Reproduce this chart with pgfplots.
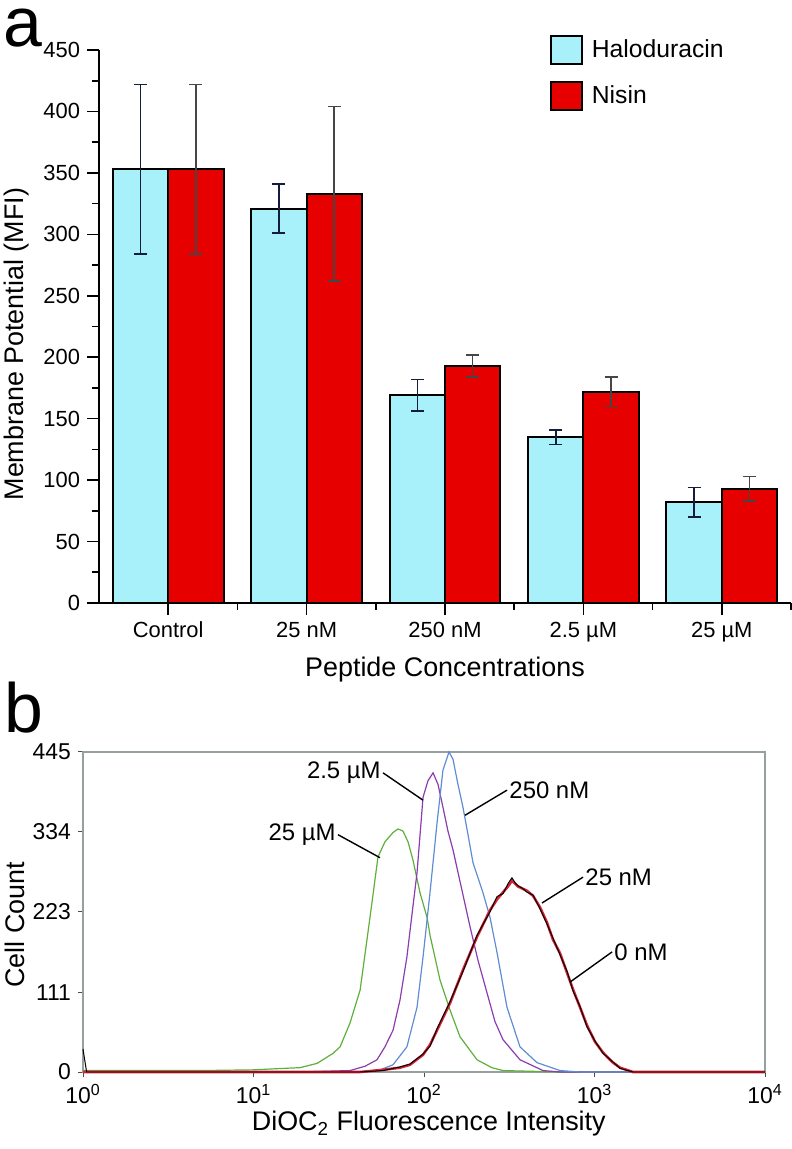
\documentclass[border=0pt]{standalone}
\usepackage{fontspec}
\setmainfont{Liberation Sans}
\usepackage{pgfplots}
\pgfplotsset{compat=1.18}
\definecolor{halo}{RGB}{168,240,250}
\definecolor{nisin}{RGB}{230,0,0}
\definecolor{errH}{RGB}{20,30,60}
\definecolor{errN}{RGB}{70,70,70}
\definecolor{cgreen}{RGB}{95,175,60}
\definecolor{cpurple}{RGB}{140,60,175}
\definecolor{cblue}{RGB}{95,140,210}
\definecolor{cred}{RGB}{215,35,55}
\definecolor{frame}{RGB}{150,160,160}
\pgfplotsset{mysq/.style={legend image code/.code={\draw[##1,line width=1bp] (0bp,-7bp) rectangle (15.5bp,7bp);}}}
\begin{document}
\begin{tikzpicture}
\path[use as bounding box] (0,0) rectangle (396bp,574.5bp);
\node[anchor=base west,inner sep=0pt,font=\fontsize{35}{38}\selectfont] at (1.5bp,551bp) {a};
\node[anchor=base west,inner sep=0pt,font=\fontsize{35}{38}\selectfont] at (2bp,208bp) {b};
% ---------------- panel a
\begin{axis}[
  at={(49.5bp,273bp)}, anchor=south west,
  scale only axis, width=346bp, height=276.5bp,
  xmin=-0.5, xmax=4.5, ymin=0, ymax=450,
  axis x line=bottom, axis y line=left,
  axis line style={-, line width=1bp, black},
  xtick={0,1,2,3,4},
  xticklabels={Control,25 nM,250 nM,2.5 µM,25 µM},
  minor xtick={0.5,1.5,2.5,3.5,4.5},
  ytick={0,50,...,450}, minor ytick={25,75,...,425},
  tick align=outside, major tick length=6bp, minor tick length=3.5bp,
  every tick/.style={black, line width=0.8bp},
  tick label style={font=\fontsize{11}{13}\selectfont},
  /pgf/number format/assume math mode=true,
  xlabel={Peptide Concentrations},
  ylabel={Membrane Potential (MFI)},
  label style={font=\fontsize{13.5}{16}\selectfont},
  xlabel style={at={(axis description cs:0.5,-0.121)}, anchor=center},
  ylabel style={at={(axis description cs:-0.1185,0.468)}, anchor=center, rotate=0},
  legend style={at={(0.651,1.027)}, anchor=north west, draw=none, fill=none,
    font=\fontsize{12.4}{15}\selectfont, row sep=8bp, inner sep=0pt,
    nodes={inner xsep=4.5bp}},
  legend cell align=left,
  clip=false,
]
\addplot[ybar, bar width=0.4, bar shift=0pt, fill=halo, draw=black, line width=1bp, mysq,
  error bars/.cd, y dir=both, y explicit,
  error bar style={line width=0.8bp, draw=errH},
  error mark=-,
  error mark options={rotate=90, mark size=3.25bp, line width=0.8bp, draw=errH}]
coordinates {(-0.2,353) +- (0,69) (0.8,321) +- (0,20) (1.8,169) +- (0,13) (2.8,135) +- (0,6) (3.8,82) +- (0,12)};
\addlegendentry{Haloduracin}
\addplot[ybar, bar width=0.4, bar shift=0pt, fill=nisin, draw=black, line width=1bp, mysq,
  error bars/.cd, y dir=both, y explicit,
  error bar style={line width=0.8bp, draw=errN},
  error mark=-,
  error mark options={rotate=90, mark size=3.25bp, line width=0.8bp, draw=errN}]
coordinates {(0.2,353) +- (0,69) (1.2,333) +- (0,71) (2.2,193) +- (0,9) (3.2,172) +- (0,12) (4.2,93) +- (0,10)};
\addlegendentry{Nisin}
\end{axis}
% ---------------- panel b
\begin{axis}[
  at={(41.5bp,38.5bp)}, anchor=south west,
  scale only axis, width=341bp, height=160bp,
  xmode=log, xmin=1, xmax=10000, ymin=0, ymax=445,
  xtick={1,10,100,1000,10000},
  xticklabels={10\textsuperscript{0},10\textsuperscript{1},10\textsuperscript{2},10\textsuperscript{3},10\textsuperscript{4}},
  xminorticks=false,
  ytick={0,111,223,334,445},
  xtick pos=bottom, ytick pos=left,
  tick align=outside, major tick length=2.5bp,
  every tick/.style={black!70, line width=0.5bp},
  axis line style={frame, line width=0.7bp},
  tick label style={font=\fontsize{11.5}{13}\selectfont},
  /pgf/number format/assume math mode=true,
  xlabel={DiOC\textsubscript{2} Fluorescence Intensity},
  ylabel={Cell Count},
  label style={font=\fontsize{13.5}{16}\selectfont},
  xlabel style={at={(axis description cs:0.507,-0.1625)}, anchor=center},
  ylabel style={at={(axis description cs:-0.0997,0.46)}, anchor=center, rotate=0},
  clip=false,
]
% 25 uM
\addplot[cgreen, line width=0.6bp] coordinates {
(1,2) (4.86,2) (10,3) (14.9,5) (18.7,6) (23.6,12) (29.3,26) (32.2,35) (36.8,68) (42.2,114)
(46.3,184) (50,243) (53.7,299) (59.0,320) (65.8,333) (70.4,338) (75.3,335) (80.6,320)
(86.1,295) (94.8,249) (104.2,215) (108.5,190) (124.1,128) (142.2,86) (162.6,49) (204.6,17)
(250,6) (290.6,2) (628,0) (10000,0)};
% 2.5 uM
\addplot[cpurple, line width=0.6bp] coordinates {
(1,0) (18.7,0) (36.8,2) (45.1,8) (53.0,17) (59.0,35) (65.8,58) (72.3,100) (79.4,160)
(85.1,220) (91.0,277) (98.7,382) (105.5,405) (113,416) (120.8,400) (129.2,368) (138.2,335)
(147.9,309) (162.6,265) (186.2,202) (207.5,155) (234.2,110) (260.9,70) (290.6,45) (365.6,17)
(499,2) (628,0) (10000,0)};
% 250 nM
\addplot[cblue, line width=0.6bp] coordinates {
(1,0) (42.2,0) (55.2,3) (65.8,10) (79.4,35) (91.0,90) (98.7,160) (108.5,250) (119.2,346)
(129.2,420) (140.2,445) (147.9,435) (158.2,400) (169.3,368) (181.2,330) (193.8,291)
(207.5,270) (221.9,249) (243.9,215) (268.1,166) (306.7,90) (365.6,35) (460,13) (628,2)
(822,0) (10000,0)};
% 25 nM
\addplot[cred, line width=1.3bp] coordinates {
(1,0) (42.2,0) (57.5,3) (72.3,6) (82.7,10) (98.7,24) (108.5,38) (119.2,58) (142.2,96)
(169.3,142) (204.6,188) (243.9,225) (268.1,240) (290.6,250) (311,258) (328,266) (356,258)
(402,252) (436,245) (479,229) (526,208) (571,184) (628,165) (690,138) (748,115) (822,90)
(903,65) (1007,42) (1122,27) (1268,14) (1413,6) (1683,0) (10000,0)};
% 0 nM
\addplot[black, line width=0.5bp] coordinates {
(1,32) (1.05,0) (42.2,0) (57.5,2) (72.3,7) (82.7,11) (98.7,25) (108.5,36) (119.2,60)
(142.2,98) (169.3,140) (204.6,190) (243.9,223) (268.1,244) (290.6,248) (311,262) (328,270)
(345,262) (356,259) (380,255) (402,250) (436,246) (479,227) (526,206) (571,186) (628,163)
(690,140) (748,113) (822,91) (903,63) (1007,43) (1122,26) (1268,15) (1413,5) (1683,0) (10000,0)};
% annotations
\begin{scope}[every node/.style={font=\fontsize{12}{14}\selectfont, inner sep=1bp}]
\node[anchor=east] at (axis cs:57.5,416) {2.5 µM};
\draw[black, line width=0.7bp] (axis cs:57.5,416) -- (axis cs:98.7,378);
\node[anchor=east] at (axis cs:31.3,330) {25 µM};
\draw[black, line width=0.7bp] (axis cs:31.3,330) -- (axis cs:55.2,298);
\node[anchor=west] at (axis cs:307,392) {250 nM};
\draw[black, line width=0.7bp] (axis cs:307,392) -- (axis cs:174,357);
\node[anchor=west] at (axis cs:857,271) {25 nM};
\draw[black, line width=0.7bp] (axis cs:857,271) -- (axis cs:492,235);
\node[anchor=west] at (axis cs:1268,167) {0 nM};
\draw[black, line width=0.7bp] (axis cs:1268,167) -- (axis cs:718,125);
\end{scope}
\end{axis}
\end{tikzpicture}
\end{document}
